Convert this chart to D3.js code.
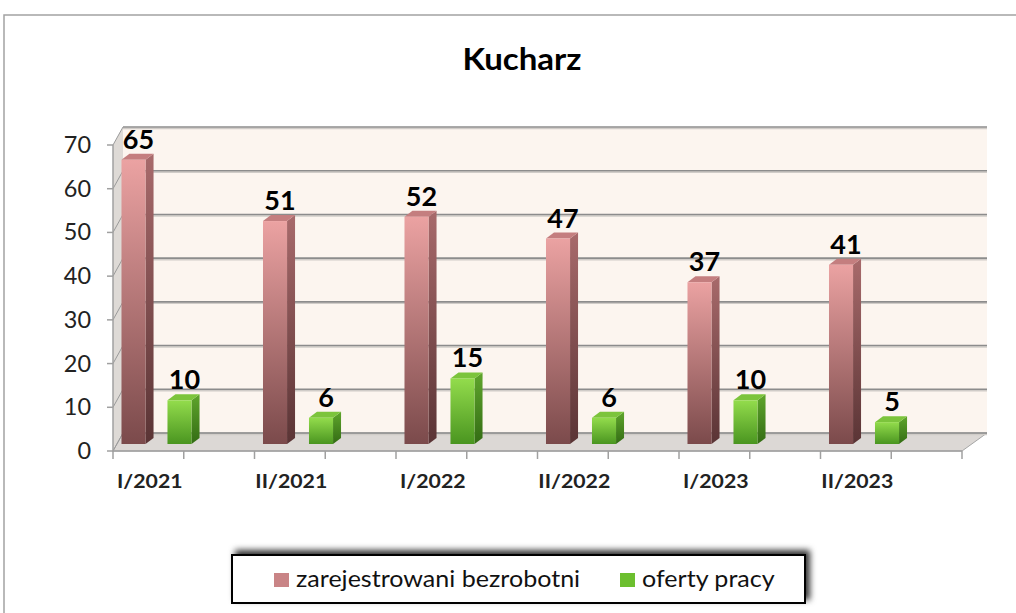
<!DOCTYPE html>
<html>
<head>
<meta charset="utf-8">
<script src="https://cdn.jsdelivr.net/npm/d3@7.9.0/dist/d3.min.js"></script>
<style>
  body { margin: 0; background: #fff; }
  svg { display: block; font-family: Lato, "Noto Sans", sans-serif; }
</style>
</head>
<body>
<svg id="chart" width="1016" height="613"></svg>
<script>
// data
const categories = ["I/2021", "II/2021", "I/2022", "II/2022", "I/2023", "II/2023"];
const registered = [65, 51, 52, 47, 37, 41];
const offers = [10, 6, 15, 6, 10, 5];
const yTicks = [0, 10, 20, 30, 40, 50, 60, 70];
const seriesNames = ["zarejestrowani bezrobotni", "oferty pracy"];

const svg = d3.select('#chart');
const defs = svg.append('defs');

// text helper, slightly stretched horizontally like the original
function addText(parent, x, y, str, size, weight, anchor, sx, color) {
    return parent.append('text')
        .attr('transform', `translate(${x},${y}) scale(${sx},1)`)
        .attr('text-anchor', anchor)
        .attr('font-size', size).attr('font-weight', weight)
        .attr('fill', color).text(str);
}

// gradients for bar faces
function vGrad(id, top, bottom) {
    const g = defs.append('linearGradient').attr('id', id)
        .attr('x1', 0).attr('y1', 0).attr('x2', 0).attr('y2', 1);
    g.append('stop').attr('offset', '0%').attr('stop-color', top);
    g.append('stop').attr('offset', '100%').attr('stop-color', bottom);
}
vGrad('pinkFront', '#eba2a2', '#7b4a4b');
vGrad('pinkSide', '#a86a6b', '#5a3435');
vGrad('greenFront', '#93dc4c', '#4a9520');
vGrad('greenSide', '#5fa52c', '#336c14');

const shadow = defs.append('filter').attr('id', 'legendShadow')
    .attr('x', '-10%').attr('y', '-60%').attr('width', '120%').attr('height', '200%');
shadow.append('feDropShadow').attr('dx', 4).attr('dy', -4)
    .attr('stdDeviation', 3).attr('flood-color', '#000').attr('flood-opacity', 0.8);

// outer frame
svg.append('path').attr('d', 'M4,613 L4,15 L1016,15')
    .attr('fill', 'none').attr('stroke', '#a3a3a3').attr('stroke-width', 1.5);

// title
addText(svg, 522, 70, 'Kucharz', 30, 700, 'middle', 1.1, '#000');

// scales
const y = d3.scaleLinear().domain([0, 70]).range([451, 145]);
const x = d3.scaleBand().domain(categories).range([113, 962]);
const bw = x.bandwidth();

const depthY = -18;
const left = x.range()[0], right = x.range()[1];
const depthX = px => 10 + (px - left) / (right - left) * 15;

// walls
const backL = left + depthX(left), backR = right + depthX(right);
svg.append('rect').attr('x', backL).attr('y', y(70) + depthY)
    .attr('width', backR - backL).attr('height', y(0) - y(70))
    .attr('fill', '#fcf5ef');
svg.append('path')
    .attr('d', `M${left},${y(70)} L${backL},${y(70) + depthY} L${backL},${y(0) + depthY} L${left},${y(0)} Z`)
    .attr('fill', '#dedad6');
svg.append('path')
    .attr('d', `M${left},${y(0)} L${right},${y(0)} L${backR},${y(0) + depthY} L${backL},${y(0) + depthY} Z`)
    .attr('fill', '#dcd8d5').attr('stroke', '#a6a6a6').attr('stroke-width', 1);

// gridlines (back wall + side wall)
yTicks.forEach(t => {
    const yb = y(t) + depthY;
    svg.append('line').attr('x1', backL).attr('x2', backR).attr('y1', yb + 1.5).attr('y2', yb + 1.5)
        .attr('stroke', '#d0ccc8').attr('stroke-width', 1.5);
    svg.append('line').attr('x1', backL).attr('x2', backR).attr('y1', yb).attr('y2', yb)
        .attr('stroke', '#8c8c8c').attr('stroke-width', 1.6);
    svg.append('line').attr('x1', left).attr('x2', backL).attr('y1', y(t)).attr('y2', yb)
        .attr('stroke', '#9a9a9a').attr('stroke-width', 1);
});

// y axis
svg.append('line').attr('x1', left).attr('x2', left).attr('y1', y(70)).attr('y2', y(0) + 1)
    .attr('stroke', '#a0a0a0').attr('stroke-width', 1.5);
yTicks.forEach(t => {
    svg.append('line').attr('x1', left - 6).attr('x2', left).attr('y1', y(t)).attr('y2', y(t))
        .attr('stroke', '#a0a0a0').attr('stroke-width', 1.5);
    addText(svg, 91, y(t) + 8, t, 23, 400, 'end', 1.02, '#222');
});

// x axis ticks and labels
svg.append('line').attr('x1', left).attr('x2', right).attr('y1', y(0)).attr('y2', y(0))
    .attr('stroke', '#a0a0a0').attr('stroke-width', 1.5);
const xTickPos = [];
categories.forEach(c => { xTickPos.push(x(c)); xTickPos.push(x(c) + bw / 2); });
xTickPos.push(right);
xTickPos.forEach(px => {
    svg.append('line').attr('x1', px).attr('x2', px).attr('y1', y(0)).attr('y2', y(0) + 8)
        .attr('stroke', '#a0a0a0').attr('stroke-width', 1.5);
});
categories.forEach(c => {
    addText(svg, x(c) + bw * 0.26, 488, c, 19, 700, 'middle', 1.12, '#222');
});

// 3D bars
const barW = bw * 0.17, sideW = 8, topH = 6, baseShift = -7;
function drawBar(x0, v, front, side, topColor) {
    const yTop = y(v) + baseShift, yBot = y(0) + baseShift;
    const g = svg.append('g');
    g.append('path')
        .attr('d', `M${x0 + barW},${yTop} L${x0 + barW + sideW},${yTop - topH} L${x0 + barW + sideW},${yBot - topH} L${x0 + barW},${yBot} Z`)
        .attr('fill', `url(#${side})`);
    g.append('path')
        .attr('d', `M${x0},${yTop} L${x0 + sideW},${yTop - topH} L${x0 + barW + sideW},${yTop - topH} L${x0 + barW},${yTop} Z`)
        .attr('fill', topColor);
    g.append('rect').attr('x', x0).attr('y', yTop).attr('width', barW).attr('height', yBot - yTop)
        .attr('fill', `url(#${front})`);
    addText(g, x0 + barW / 2 + 5, yTop - 11, v, 27, 700, 'middle', 1.0, '#000');
}
categories.forEach((c, i) => {
    drawBar(x(c) + bw * 0.06, registered[i], 'pinkFront', 'pinkSide', '#c47e7f');
    drawBar(x(c) + bw * 0.385, offers[i], 'greenFront', 'greenSide', '#7cc43c');
});

// legend
const legend = svg.append('g');
legend.append('rect').attr('x', 232).attr('y', 555).attr('width', 573).attr('height', 48)
    .attr('fill', '#fff').attr('stroke', '#000').attr('stroke-width', 2)
    .attr('filter', 'url(#legendShadow)');
const legendItems = [
    { name: seriesNames[0], x: 274, color: '#c98486' },
    { name: seriesNames[1], x: 620, color: '#6cbf2f' }
];
legendItems.forEach(d => {
    legend.append('rect').attr('x', d.x).attr('y', 573).attr('width', 15).attr('height', 14)
        .attr('fill', d.color);
    addText(legend, d.x + 22, 587, d.name, 23, 400, 'start', 1.09, '#111');
});
</script>
</body>
</html>
